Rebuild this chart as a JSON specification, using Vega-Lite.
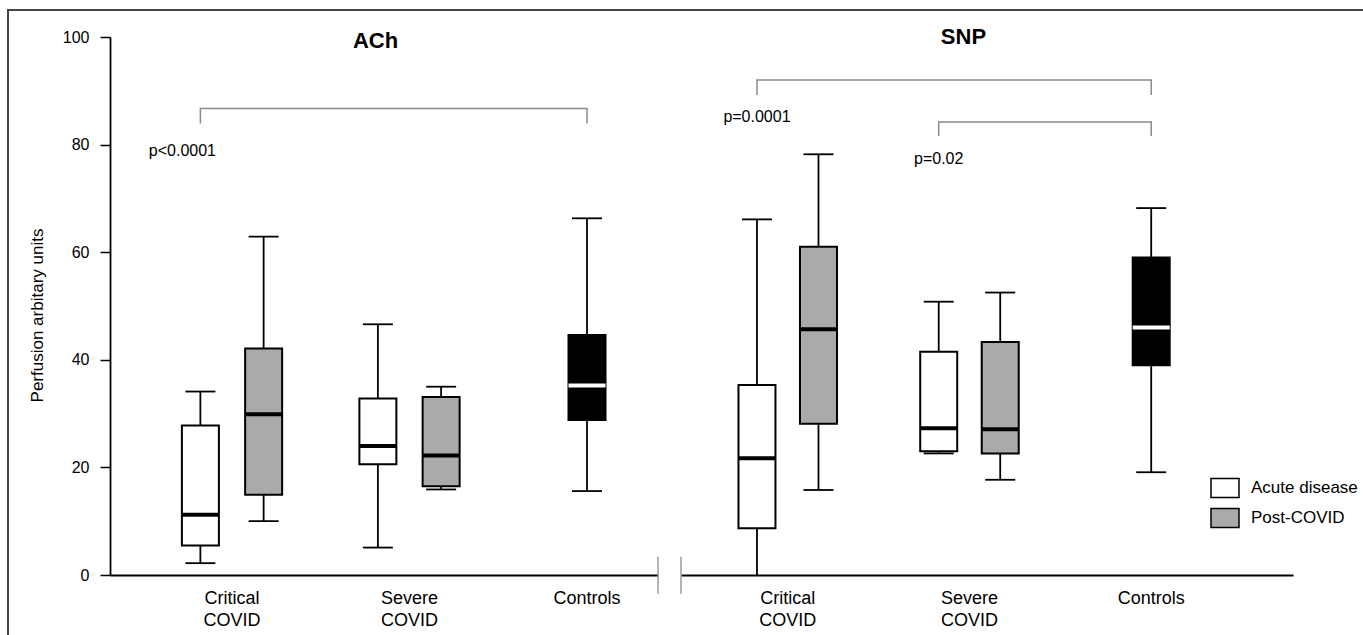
{
  "$schema": "https://vega.github.io/schema/vega-lite/v6.json",
  "width": 1355,
  "height": 625,
  "autosize": {"type": "none"},
  "padding": {"left": 8, "top": 10, "right": 0, "bottom": 0},
  "background": "white",
  "config": {
    "font": "Liberation Sans",
    "view": {"stroke": "#444444", "strokeWidth": 2, "strokeDash": [1355, 1980, 625]},
    "axis": {"grid": false, "labelColor": "black", "titleColor": "black", "domainColor": "black", "domainWidth": 1.8},
    "text": {"font": "Liberation Sans"}
  },
  "datasets": {
    "boxes": [
      {"panel": "ACh", "group": "Critical COVID", "status": "Acute disease", "min": 2.2, "q1": 5.5, "median": 11.2, "q3": 27.8, "max": 34.1},
      {"panel": "ACh", "group": "Critical COVID", "status": "Post-COVID", "min": 10.0, "q1": 14.9, "median": 29.9, "q3": 42.1, "max": 62.9},
      {"panel": "ACh", "group": "Severe COVID", "status": "Acute disease", "min": 5.1, "q1": 20.6, "median": 24.0, "q3": 32.8, "max": 46.6},
      {"panel": "ACh", "group": "Severe COVID", "status": "Post-COVID", "min": 15.9, "q1": 16.5, "median": 22.2, "q3": 33.1, "max": 35.0},
      {"panel": "ACh", "group": "Controls", "status": "Controls", "min": 15.6, "q1": 28.8, "median": 35.2, "q3": 44.6, "max": 66.3},
      {"panel": "SNP", "group": "Critical COVID", "status": "Acute disease", "min": 0.0, "q1": 8.7, "median": 21.7, "q3": 35.3, "max": 66.1},
      {"panel": "SNP", "group": "Critical COVID", "status": "Post-COVID", "min": 15.8, "q1": 28.1, "median": 45.7, "q3": 61.0, "max": 78.2},
      {"panel": "SNP", "group": "Severe COVID", "status": "Acute disease", "min": 22.6, "q1": 23.0, "median": 27.3, "q3": 41.5, "max": 50.8},
      {"panel": "SNP", "group": "Severe COVID", "status": "Post-COVID", "min": 17.7, "q1": 22.6, "median": 27.1, "q3": 43.3, "max": 52.5},
      {"panel": "SNP", "group": "Controls", "status": "Controls", "min": 19.1, "q1": 39.0, "median": 46.0, "q3": 59.0, "max": 68.2}
    ],
    "brackets": [
      {"panel": "ACh", "id": "a", "k": 1, "group": "Critical COVID", "status": "Acute disease", "y": 83.9},
      {"panel": "ACh", "id": "a", "k": 2, "group": "Critical COVID", "status": "Acute disease", "y": 86.7},
      {"panel": "ACh", "id": "a", "k": 3, "group": "Controls", "status": "Controls", "y": 86.7},
      {"panel": "ACh", "id": "a", "k": 4, "group": "Controls", "status": "Controls", "y": 83.9},
      {"panel": "SNP", "id": "b", "k": 1, "group": "Critical COVID", "status": "Acute disease", "y": 89.2},
      {"panel": "SNP", "id": "b", "k": 2, "group": "Critical COVID", "status": "Acute disease", "y": 92.0},
      {"panel": "SNP", "id": "b", "k": 3, "group": "Controls", "status": "Controls", "y": 92.0},
      {"panel": "SNP", "id": "b", "k": 4, "group": "Controls", "status": "Controls", "y": 89.2},
      {"panel": "SNP", "id": "c", "k": 1, "group": "Severe COVID", "status": "Acute disease", "y": 81.6},
      {"panel": "SNP", "id": "c", "k": 2, "group": "Severe COVID", "status": "Acute disease", "y": 84.2},
      {"panel": "SNP", "id": "c", "k": 3, "group": "Controls", "status": "Controls", "y": 84.2},
      {"panel": "SNP", "id": "c", "k": 4, "group": "Controls", "status": "Controls", "y": 81.6}
    ],
    "pvalues": [
      {"panel": "ACh", "group": "Critical COVID", "status": "Acute disease", "y": 78.8, "label": "p<0.0001"},
      {"panel": "SNP", "group": "Critical COVID", "status": "Acute disease", "y": 85.2, "label": "p=0.0001"},
      {"panel": "SNP", "group": "Severe COVID", "status": "Acute disease", "y": 77.3, "label": "p=0.02"}
    ]
  },
  "resolve": {"scale": {"x": "independent", "xOffset": "independent"}, "axis": {"x": "independent"}},
  "layer": [
    {
      "layer": [
        {
          "data": {"name": "boxes"},
          "transform": [{"filter": "datum.panel === 'ACh'"}],
          "mark": {"type": "rule", "color": "black", "strokeWidth": 1.8},
          "encoding": {
            "x": {"field": "group", "type": "nominal", "scale": {"domain": ["Critical COVID", "Severe COVID", "Controls"], "range": [102, 650], "paddingInner": 0.2, "paddingOuter": 0.1437, "align": 1}},
            "xOffset": {"field": "status", "type": "nominal", "scale": {"domain": ["Acute disease", "Controls", "Post-COVID"], "paddingInner": 0, "paddingOuter": 0.745}},
            "y": {"field": "min", "type": "quantitative", "scale": {"domain": [0, 100], "range": [565, 27], "nice": false, "zero": false}},
            "y2": {"field": "max"}
          }
        },
        {
          "data": {"name": "boxes"},
          "transform": [{"filter": "datum.panel === 'ACh'"}],
          "mark": {"type": "bar", "size": 37, "stroke": "black", "strokeWidth": 2},
          "encoding": {
            "x": {"field": "group", "type": "nominal", "scale": {"domain": ["Critical COVID", "Severe COVID", "Controls"], "range": [102, 650], "paddingInner": 0.2, "paddingOuter": 0.1437, "align": 1},
              "axis": {"orient": "bottom", "offset": -60, "title": null, "ticks": false, "labelAngle": 0, "labelAlign": "center", "labelFontSize": 18, "labelLineHeight": 22, "labelPadding": 14, "labelBaseline": "top", "labelExpr": "datum.value == 'Controls' ? datum.value : split(datum.value, ' ')"}},
            "xOffset": {"field": "status", "type": "nominal", "scale": {"domain": ["Acute disease", "Controls", "Post-COVID"], "paddingInner": 0, "paddingOuter": 0.745}},
            "y": {"field": "q1", "type": "quantitative", "scale": {"domain": [0, 100], "range": [565, 27], "nice": false, "zero": false},
              "axis": {"orient": "left", "offset": -102, "values": [0, 20, 40, 60, 80, 100], "title": "Perfusion arbitary units", "titleFontSize": 17, "titleFontWeight": "normal", "titlePadding": 16, "titleY": 305, "labelFontSize": 16, "labelPadding": 11, "tickSize": 10, "tickWidth": 1.5, "tickColor": "black"}},
            "y2": {"field": "q3"},
            "fill": {"field": "status", "type": "nominal", "scale": {"domain": ["Acute disease", "Post-COVID", "Controls"], "range": ["#ffffff", "#aaaaaa", "#000000"]},
              "legend": {"title": null, "orient": "none", "legendX": 1202, "legendY": 463, "values": ["Acute disease", "Post-COVID"], "symbolType": "M-1,-0.68L1,-0.68L1,0.68L-1,0.68Z", "symbolSize": 784, "symbolStrokeColor": "black", "symbolStrokeWidth": 1.5, "labelFontSize": 17, "labelOffset": 11, "rowPadding": 2, "padding": 0}}
          }
        },
        {
          "data": {"name": "boxes"},
          "transform": [{"filter": "datum.panel === 'ACh'"}],
          "mark": {"type": "tick", "size": 37, "thickness": 4, "opacity": 1},
          "encoding": {
            "x": {"field": "group", "type": "nominal", "scale": {"domain": ["Critical COVID", "Severe COVID", "Controls"], "range": [102, 650], "paddingInner": 0.2, "paddingOuter": 0.1437, "align": 1}},
            "xOffset": {"field": "status", "type": "nominal", "scale": {"domain": ["Acute disease", "Controls", "Post-COVID"], "paddingInner": 0, "paddingOuter": 0.745}},
            "y": {"field": "median", "type": "quantitative", "scale": {"domain": [0, 100], "range": [565, 27], "nice": false, "zero": false}},
            "color": {"condition": {"test": "datum.status === 'Controls'", "value": "white"}, "value": "black"}
          }
        },
        {
          "data": {"name": "boxes"},
          "transform": [{"filter": "datum.panel === 'ACh'"}],
          "mark": {"type": "tick", "size": 30, "thickness": 1.8, "color": "black", "opacity": 1},
          "encoding": {
            "x": {"field": "group", "type": "nominal", "scale": {"domain": ["Critical COVID", "Severe COVID", "Controls"], "range": [102, 650], "paddingInner": 0.2, "paddingOuter": 0.1437, "align": 1}},
            "xOffset": {"field": "status", "type": "nominal", "scale": {"domain": ["Acute disease", "Controls", "Post-COVID"], "paddingInner": 0, "paddingOuter": 0.745}},
            "y": {"field": "min", "type": "quantitative", "scale": {"domain": [0, 100], "range": [565, 27], "nice": false, "zero": false}}
          }
        },
        {
          "data": {"name": "boxes"},
          "transform": [{"filter": "datum.panel === 'ACh'"}],
          "mark": {"type": "tick", "size": 30, "thickness": 1.8, "color": "black", "opacity": 1},
          "encoding": {
            "x": {"field": "group", "type": "nominal", "scale": {"domain": ["Critical COVID", "Severe COVID", "Controls"], "range": [102, 650], "paddingInner": 0.2, "paddingOuter": 0.1437, "align": 1}},
            "xOffset": {"field": "status", "type": "nominal", "scale": {"domain": ["Acute disease", "Controls", "Post-COVID"], "paddingInner": 0, "paddingOuter": 0.745}},
            "y": {"field": "max", "type": "quantitative", "scale": {"domain": [0, 100], "range": [565, 27], "nice": false, "zero": false}}
          }
        },
        {
          "data": {"name": "brackets"},
          "transform": [{"filter": "datum.panel === 'ACh'"}],
          "mark": {"type": "line", "color": "#8a8a8a", "strokeWidth": 1.5},
          "encoding": {
            "x": {"field": "group", "type": "nominal", "scale": {"domain": ["Critical COVID", "Severe COVID", "Controls"], "range": [102, 650], "paddingInner": 0.2, "paddingOuter": 0.1437, "align": 1}},
            "xOffset": {"field": "status", "type": "nominal", "scale": {"domain": ["Acute disease", "Controls", "Post-COVID"], "paddingInner": 0, "paddingOuter": 0.745}},
            "y": {"field": "y", "type": "quantitative", "scale": {"domain": [0, 100], "range": [565, 27], "nice": false, "zero": false}},
            "detail": {"field": "id"},
            "order": {"field": "k", "type": "quantitative"}
          }
        },
        {
          "data": {"name": "pvalues"},
          "transform": [{"filter": "datum.panel === 'ACh'"}],
          "mark": {"type": "text", "fontSize": 16, "baseline": "middle", "align": "center", "color": "black", "dx": -18},
          "encoding": {
            "x": {"field": "group", "type": "nominal", "scale": {"domain": ["Critical COVID", "Severe COVID", "Controls"], "range": [102, 650], "paddingInner": 0.2, "paddingOuter": 0.1437, "align": 1}},
            "xOffset": {"field": "status", "type": "nominal", "scale": {"domain": ["Acute disease", "Controls", "Post-COVID"], "paddingInner": 0, "paddingOuter": 0.745}},
            "y": {"field": "y", "type": "quantitative", "scale": {"domain": [0, 100], "range": [565, 27], "nice": false, "zero": false}},
            "text": {"field": "label"}
          }
        },
        {
          "data": {"values": [{"title": "ACh"}]},
          "mark": {"type": "text", "fontSize": 22, "fontWeight": "bold", "baseline": "middle", "align": "center", "color": "black", "dx": -34},
          "encoding": {
            "x": {"datum": "Severe COVID", "scale": {"domain": ["Critical COVID", "Severe COVID", "Controls"], "range": [102, 650], "paddingInner": 0.2, "paddingOuter": 0.1437, "align": 1}},
            "y": {"datum": 99.3, "scale": {"domain": [0, 100], "range": [565, 27], "nice": false, "zero": false}},
            "text": {"field": "title"}
          }
        },
        {
          "data": {"values": [{"edge": "end"}]},
          "mark": {"type": "rule", "color": "#9a9a9a", "strokeWidth": 1.5},
          "encoding": {
            "x": {"datum": "Controls", "bandPosition": 1, "scale": {"domain": ["Critical COVID", "Severe COVID", "Controls"], "range": [102, 650], "paddingInner": 0.2, "paddingOuter": 0.1437, "align": 1}},
            "y": {"datum": -3.5, "scale": {"domain": [0, 100], "range": [565, 27], "nice": false, "zero": false}},
            "y2": {"datum": 3.4}
          }
        }
      ]
    },
    {
      "layer": [
        {
          "data": {"name": "boxes"},
          "transform": [{"filter": "datum.panel === 'SNP'"}],
          "mark": {"type": "rule", "color": "black", "strokeWidth": 1.8},
          "encoding": {
            "x": {"field": "group", "type": "nominal", "scale": {"domain": ["Critical COVID", "Severe COVID", "Controls"], "range": [673, 1285], "paddingInner": 0.2, "paddingOuter": 0.2837, "align": 0.33}},
            "xOffset": {"field": "status", "type": "nominal", "scale": {"domain": ["Acute disease", "Controls", "Post-COVID"], "paddingInner": 0, "paddingOuter": 0.864}},
            "y": {"field": "min", "type": "quantitative", "scale": {"domain": [0, 100], "range": [565, 27], "nice": false, "zero": false}},
            "y2": {"field": "max"}
          }
        },
        {
          "data": {"name": "boxes"},
          "transform": [{"filter": "datum.panel === 'SNP'"}],
          "mark": {"type": "bar", "size": 37, "stroke": "black", "strokeWidth": 2},
          "encoding": {
            "x": {"field": "group", "type": "nominal", "scale": {"domain": ["Critical COVID", "Severe COVID", "Controls"], "range": [673, 1285], "paddingInner": 0.2, "paddingOuter": 0.2837, "align": 0.33},
              "axis": {"orient": "bottom", "offset": -60, "title": null, "ticks": false, "labelAngle": 0, "labelAlign": "center", "labelFontSize": 18, "labelLineHeight": 22, "labelPadding": 14, "labelBaseline": "top", "labelExpr": "datum.value == 'Controls' ? datum.value : split(datum.value, ' ')"}},
            "xOffset": {"field": "status", "type": "nominal", "scale": {"domain": ["Acute disease", "Controls", "Post-COVID"], "paddingInner": 0, "paddingOuter": 0.864}},
            "y": {"field": "q1", "type": "quantitative", "scale": {"domain": [0, 100], "range": [565, 27], "nice": false, "zero": false}},
            "y2": {"field": "q3"},
            "fill": {"field": "status", "type": "nominal", "scale": {"domain": ["Acute disease", "Post-COVID", "Controls"], "range": ["#ffffff", "#aaaaaa", "#000000"]},
              "legend": {"title": null, "orient": "none", "legendX": 1202, "legendY": 463, "values": ["Acute disease", "Post-COVID"], "symbolType": "M-1,-0.68L1,-0.68L1,0.68L-1,0.68Z", "symbolSize": 784, "symbolStrokeColor": "black", "symbolStrokeWidth": 1.5, "labelFontSize": 17, "labelOffset": 11, "rowPadding": 2, "padding": 0}}
          }
        },
        {
          "data": {"name": "boxes"},
          "transform": [{"filter": "datum.panel === 'SNP'"}],
          "mark": {"type": "tick", "size": 37, "thickness": 4, "opacity": 1},
          "encoding": {
            "x": {"field": "group", "type": "nominal", "scale": {"domain": ["Critical COVID", "Severe COVID", "Controls"], "range": [673, 1285], "paddingInner": 0.2, "paddingOuter": 0.2837, "align": 0.33}},
            "xOffset": {"field": "status", "type": "nominal", "scale": {"domain": ["Acute disease", "Controls", "Post-COVID"], "paddingInner": 0, "paddingOuter": 0.864}},
            "y": {"field": "median", "type": "quantitative", "scale": {"domain": [0, 100], "range": [565, 27], "nice": false, "zero": false}},
            "color": {"condition": {"test": "datum.status === 'Controls'", "value": "white"}, "value": "black"}
          }
        },
        {
          "data": {"name": "boxes"},
          "transform": [{"filter": "datum.panel === 'SNP' && datum.min > 0"}],
          "mark": {"type": "tick", "size": 30, "thickness": 1.8, "color": "black", "opacity": 1},
          "encoding": {
            "x": {"field": "group", "type": "nominal", "scale": {"domain": ["Critical COVID", "Severe COVID", "Controls"], "range": [673, 1285], "paddingInner": 0.2, "paddingOuter": 0.2837, "align": 0.33}},
            "xOffset": {"field": "status", "type": "nominal", "scale": {"domain": ["Acute disease", "Controls", "Post-COVID"], "paddingInner": 0, "paddingOuter": 0.864}},
            "y": {"field": "min", "type": "quantitative", "scale": {"domain": [0, 100], "range": [565, 27], "nice": false, "zero": false}}
          }
        },
        {
          "data": {"name": "boxes"},
          "transform": [{"filter": "datum.panel === 'SNP'"}],
          "mark": {"type": "tick", "size": 30, "thickness": 1.8, "color": "black", "opacity": 1},
          "encoding": {
            "x": {"field": "group", "type": "nominal", "scale": {"domain": ["Critical COVID", "Severe COVID", "Controls"], "range": [673, 1285], "paddingInner": 0.2, "paddingOuter": 0.2837, "align": 0.33}},
            "xOffset": {"field": "status", "type": "nominal", "scale": {"domain": ["Acute disease", "Controls", "Post-COVID"], "paddingInner": 0, "paddingOuter": 0.864}},
            "y": {"field": "max", "type": "quantitative", "scale": {"domain": [0, 100], "range": [565, 27], "nice": false, "zero": false}}
          }
        },
        {
          "data": {"name": "brackets"},
          "transform": [{"filter": "datum.panel === 'SNP'"}],
          "mark": {"type": "line", "color": "#8a8a8a", "strokeWidth": 1.5},
          "encoding": {
            "x": {"field": "group", "type": "nominal", "scale": {"domain": ["Critical COVID", "Severe COVID", "Controls"], "range": [673, 1285], "paddingInner": 0.2, "paddingOuter": 0.2837, "align": 0.33}},
            "xOffset": {"field": "status", "type": "nominal", "scale": {"domain": ["Acute disease", "Controls", "Post-COVID"], "paddingInner": 0, "paddingOuter": 0.864}},
            "y": {"field": "y", "type": "quantitative", "scale": {"domain": [0, 100], "range": [565, 27], "nice": false, "zero": false}},
            "detail": {"field": "id"},
            "order": {"field": "k", "type": "quantitative"}
          }
        },
        {
          "data": {"name": "pvalues"},
          "transform": [{"filter": "datum.panel === 'SNP'"}],
          "mark": {"type": "text", "fontSize": 16, "baseline": "middle", "align": "center", "color": "black", "dx": 0},
          "encoding": {
            "x": {"field": "group", "type": "nominal", "scale": {"domain": ["Critical COVID", "Severe COVID", "Controls"], "range": [673, 1285], "paddingInner": 0.2, "paddingOuter": 0.2837, "align": 0.33}},
            "xOffset": {"field": "status", "type": "nominal", "scale": {"domain": ["Acute disease", "Controls", "Post-COVID"], "paddingInner": 0, "paddingOuter": 0.864}},
            "y": {"field": "y", "type": "quantitative", "scale": {"domain": [0, 100], "range": [565, 27], "nice": false, "zero": false}},
            "text": {"field": "label"}
          }
        },
        {
          "data": {"values": [{"title": "SNP"}]},
          "mark": {"type": "text", "fontSize": 22, "fontWeight": "bold", "baseline": "middle", "align": "center", "color": "black", "dx": -6},
          "encoding": {
            "x": {"datum": "Severe COVID", "scale": {"domain": ["Critical COVID", "Severe COVID", "Controls"], "range": [673, 1285], "paddingInner": 0.2, "paddingOuter": 0.2837, "align": 0.33}},
            "y": {"datum": 100, "scale": {"domain": [0, 100], "range": [565, 27], "nice": false, "zero": false}},
            "text": {"field": "title"}
          }
        },
        {
          "data": {"values": [{"edge": "start"}]},
          "mark": {"type": "rule", "color": "#9a9a9a", "strokeWidth": 1.5},
          "encoding": {
            "x": {"datum": "Critical COVID", "bandPosition": -0.234, "scale": {"domain": ["Critical COVID", "Severe COVID", "Controls"], "range": [673, 1285], "paddingInner": 0.2, "paddingOuter": 0.2837, "align": 0.33}},
            "y": {"datum": -3.5, "scale": {"domain": [0, 100], "range": [565, 27], "nice": false, "zero": false}},
            "y2": {"datum": 3.4}
          }
        }
      ]
    }
  ]
}
